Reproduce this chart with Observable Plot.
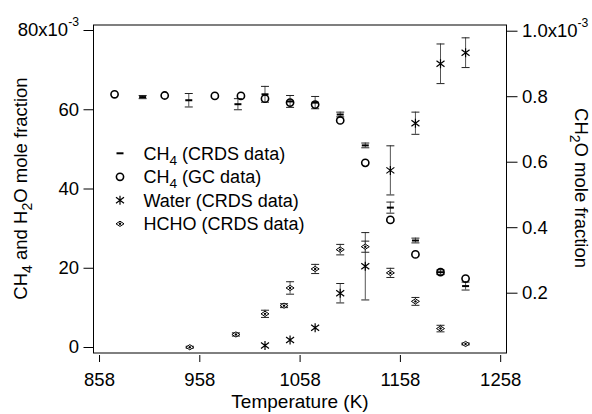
<!DOCTYPE html>
<html><head><meta charset="utf-8">
<script src="https://cdn.jsdelivr.net/npm/d3@7"></script>
<script src="https://cdn.jsdelivr.net/npm/@observablehq/plot@0.6"></script>
<style>
body{margin:0;background:#fff}
#chart svg{font-family:"Liberation Sans",Arial,sans-serif;overflow:visible}
</style>
</head><body><div id="chart"></div>
<script>
// ---- data ----
const xTicks = [858, 958, 1058, 1158, 1258];
const yLeftTicks = [0, 20, 40, 60, 80];
const yRightTicks = [0.2, 0.4, 0.6, 0.8, 1.0];

const gcTemp = [873, 923, 973, 999, 1023, 1048, 1073, 1098, 1123, 1148, 1173, 1198, 1223];
const gcCH4 = [63.9, 63.6, 63.5, 63.5, 62.8, 61.8, 61.3, 57.3, 46.6, 32.2, 23.5, 19.0, 17.4];

const crdsTemp = [901, 947, 996, 1023, 1048, 1073, 1098, 1123, 1148, 1173, 1198, 1223];
const crdsCH4 = [63.2, 62.4, 61.4, 63.9, 62.1, 61.8, 58.8, 51.0, 35.3, 27.0, 19.0, 15.5];
const crdsCH4Err = [0.4, 1.7, 1.4, 2.0, 1.5, 1.55, 0.6, 0.6, 1.4, 0.6, 0.6, 1.0];

const waterTemp = [1023, 1048, 1073, 1098, 1123, 1148, 1173, 1198, 1223];
const water = [0.5, 1.9, 5.0, 13.7, 20.5, 44.7, 56.6, 71.6, 74.4];
const waterErr = [0, 0, 0, 2.45, 8.5, 6.2, 2.8, 5.0, 3.75];

const hchoTemp = [948, 994, 1023, 1042, 1048, 1073, 1098, 1123, 1148, 1173, 1198, 1223];
const hcho = [0.035, 0.074, 0.137, 0.162, 0.216, 0.274, 0.333, 0.342, 0.262, 0.175, 0.092, 0.045];
const hchoErr = [0.003, 0.005, 0.011, 0.006, 0.019, 0.014, 0.016, 0.017, 0.014, 0.012, 0.01, 0.003];

const legendLabels = ["CH_4 (CRDS data)", "CH_4 (GC data)", "Water (CRDS data)", "HCHO (CRDS data)"];
const xLabel = "Temperature (K)";
const yLabel = "CH_4 and H_2O mole fraction";
const y2Label = "CH_2O mole fraction";

// ---- right-axis mapping (HCHO, 1e-3) to left-axis units (1e-3) ----
const hToL = h => (h * 327.5 - 11.2) / 3.9625;
const LtoH = L => (L * 3.9625 + 11.2) / 327.5;

// ---- custom symbols ----
const dashSym = {draw(c){ c.moveTo(-3.5,0); c.lineTo(3.5,0); }};
const capSym = {draw(c){ c.moveTo(-4,0); c.lineTo(4,0); }};
const starSym = {draw(c){ c.moveTo(0,-4.5); c.lineTo(0,4.5); c.moveTo(-4,-3); c.lineTo(4,3); c.moveTo(-4,3); c.lineTo(4,-3); }};
const eyeSym = {draw(c){ c.moveTo(-4,0); c.lineTo(0,-2.6); c.lineTo(4,0); c.lineTo(0,2.6); c.closePath(); }};

// ---- tables ----
const gc = gcTemp.map((t,i)=>({T:t, v:gcCH4[i]}));
const crds = crdsTemp.map((t,i)=>({T:t, v:crdsCH4[i], lo:crdsCH4[i]-crdsCH4Err[i], hi:crdsCH4[i]+crdsCH4Err[i]}));
const wat = waterTemp.map((t,i)=>({T:t, v:water[i], e:waterErr[i], lo:water[i]-waterErr[i], hi:water[i]+waterErr[i]}));
const hc = hchoTemp.map((t,i)=>({T:t, v:hToL(hcho[i]), lo:hToL(hcho[i]-hchoErr[i]), hi:hToL(hcho[i]+hchoErr[i])}));
const errs = [...crds, ...wat.filter(d=>d.e>0), ...hc];

const FS = 18.5;
const chart = Plot.plot({
  width: 592, height: 414,
  marginLeft: 93, marginRight: 86, marginTop: 24.5, marginBottom: 61.5,
  style: {fontSize: FS + "px", fontFamily: "Liberation Sans, Arial, sans-serif", color: "black", background: "white"},
  x: {domain: [852.0, 1263.8]},
  y: {domain: [-1.388, 81.39]},
  marks: [
    Plot.axisX({ticks: xTicks, tickSize: 7, dy: 2.5, tickPadding: 10, label: null, tickFormat: d => String(d), fontSize: FS}),
    Plot.axisY({ticks: yLeftTicks, tickSize: 9.5, tickPadding: 5, label: null, fontSize: FS,
      tickFormat: d => d === 80 ? "80x10^-3" : String(d)}),
    Plot.axisY({anchor: "right", ticks: yRightTicks.map(hToL), tickSize: 10.5, tickPadding: 5, label: null, fontSize: FS,
      tickFormat: d => { const h = Math.round(LtoH(d)*10)/10; return h === 1 ? "1.0x10^-3" : h.toFixed(1); }}),
    Plot.frame({stroke: "black", strokeWidth: 1}),
    Plot.ruleX(errs, {x: "T", y1: "lo", y2: "hi", stroke: "#555", strokeWidth: 1}),
    Plot.dot(errs, {x: "T", y: "lo", symbol: capSym, r: 4, fill: "none", stroke: "#222", strokeWidth: 1}),
    Plot.dot(errs, {x: "T", y: "hi", symbol: capSym, r: 4, fill: "none", stroke: "#222", strokeWidth: 1}),
    Plot.dot(gc, {x: "T", y: "v", r: 3.6, fill: "none", stroke: "black", strokeWidth: 1.6}),
    Plot.dot(crds, {x: "T", y: "v", symbol: dashSym, r: 4, fill: "none", stroke: "black", strokeWidth: 2}),
    Plot.dot(wat, {x: "T", y: "v", symbol: starSym, r: 4, fill: "none", stroke: "black", strokeWidth: 1.2}),
    Plot.dot(hc, {x: "T", y: "v", symbol: eyeSym, r: 4, fill: "white", stroke: "black", strokeWidth: 1}),
    Plot.dot(hc, {x: "T", y: "v", r: 1.2, fill: "black", stroke: "none"})
  ]
});
document.getElementById("chart").append(chart);

// ---- rich text helper (sub/superscripts) ----
function rich(el, str, fs){
  const parts = str.split(/(_\w|\^[-\w]+)/).filter(s => s !== "");
  el.text(null);
  let shift = 0;
  for (const p of parts){
    if (p[0] === "_"){ el.append("tspan").attr("dy", 5 - shift).attr("font-size", fs*0.76).text(p.slice(1)); shift = 5; }
    else if (p[0] === "^"){ el.append("tspan").attr("dy", -10 - shift).attr("font-size", fs*0.66).text(p.slice(1)); shift = -10; }
    else { el.append("tspan").attr("dy", -shift).text(p); shift = 0; }
  }
}
const svg = d3.select(chart);
svg.selectAll("text").each(function(){
  const t = this.textContent;
  if (t.includes("^")) rich(d3.select(this), t, FS);
});

// ---- axis titles ----
svg.append("text").attr("x", 300).attr("y", 408).attr("text-anchor", "middle")
  .attr("font-size", 19).attr("fill", "black").text(xLabel);
rich(svg.append("text").attr("transform", "translate(26.5,188.5) rotate(-90)").attr("text-anchor", "middle")
  .attr("font-size", FS).attr("fill", "black"), yLabel, FS);
rich(svg.append("text").attr("transform", "translate(574.5,188) rotate(90)").attr("text-anchor", "middle")
  .attr("font-size", FS).attr("fill", "black"), y2Label, FS);

// ---- legend ----
const legSyms = [
  {type: dashSym, fill: "none", sw: 2},
  {type: d3.symbolCircle, size: Math.PI*3.6*3.6, fill: "none", sw: 1.6},
  {type: starSym, fill: "none", sw: 1.2},
  {type: eyeSym, fill: "white", sw: 1, dot: true}
];
const lg = svg.append("g").attr("text-anchor", "start");
legendLabels.forEach((lab, i) => {
  const cy = 153.3 + i*23.5;
  const s = legSyms[i];
  lg.append("path").attr("transform", `translate(120,${cy})`)
    .attr("d", d3.symbol().type(s.type).size(s.size || 50)())
    .attr("fill", s.fill).attr("stroke", "black").attr("stroke-width", s.sw);
  if (s.dot) lg.append("circle").attr("cx", 120).attr("cy", cy).attr("r", 1.2).attr("fill", "black");
  rich(lg.append("text").attr("x", 143.5).attr("y", cy + 6.6).attr("text-anchor", "start")
    .attr("font-size", FS - 0.5).attr("fill", "black"), lab, FS - 0.5);
});
</script>
</body></html>
